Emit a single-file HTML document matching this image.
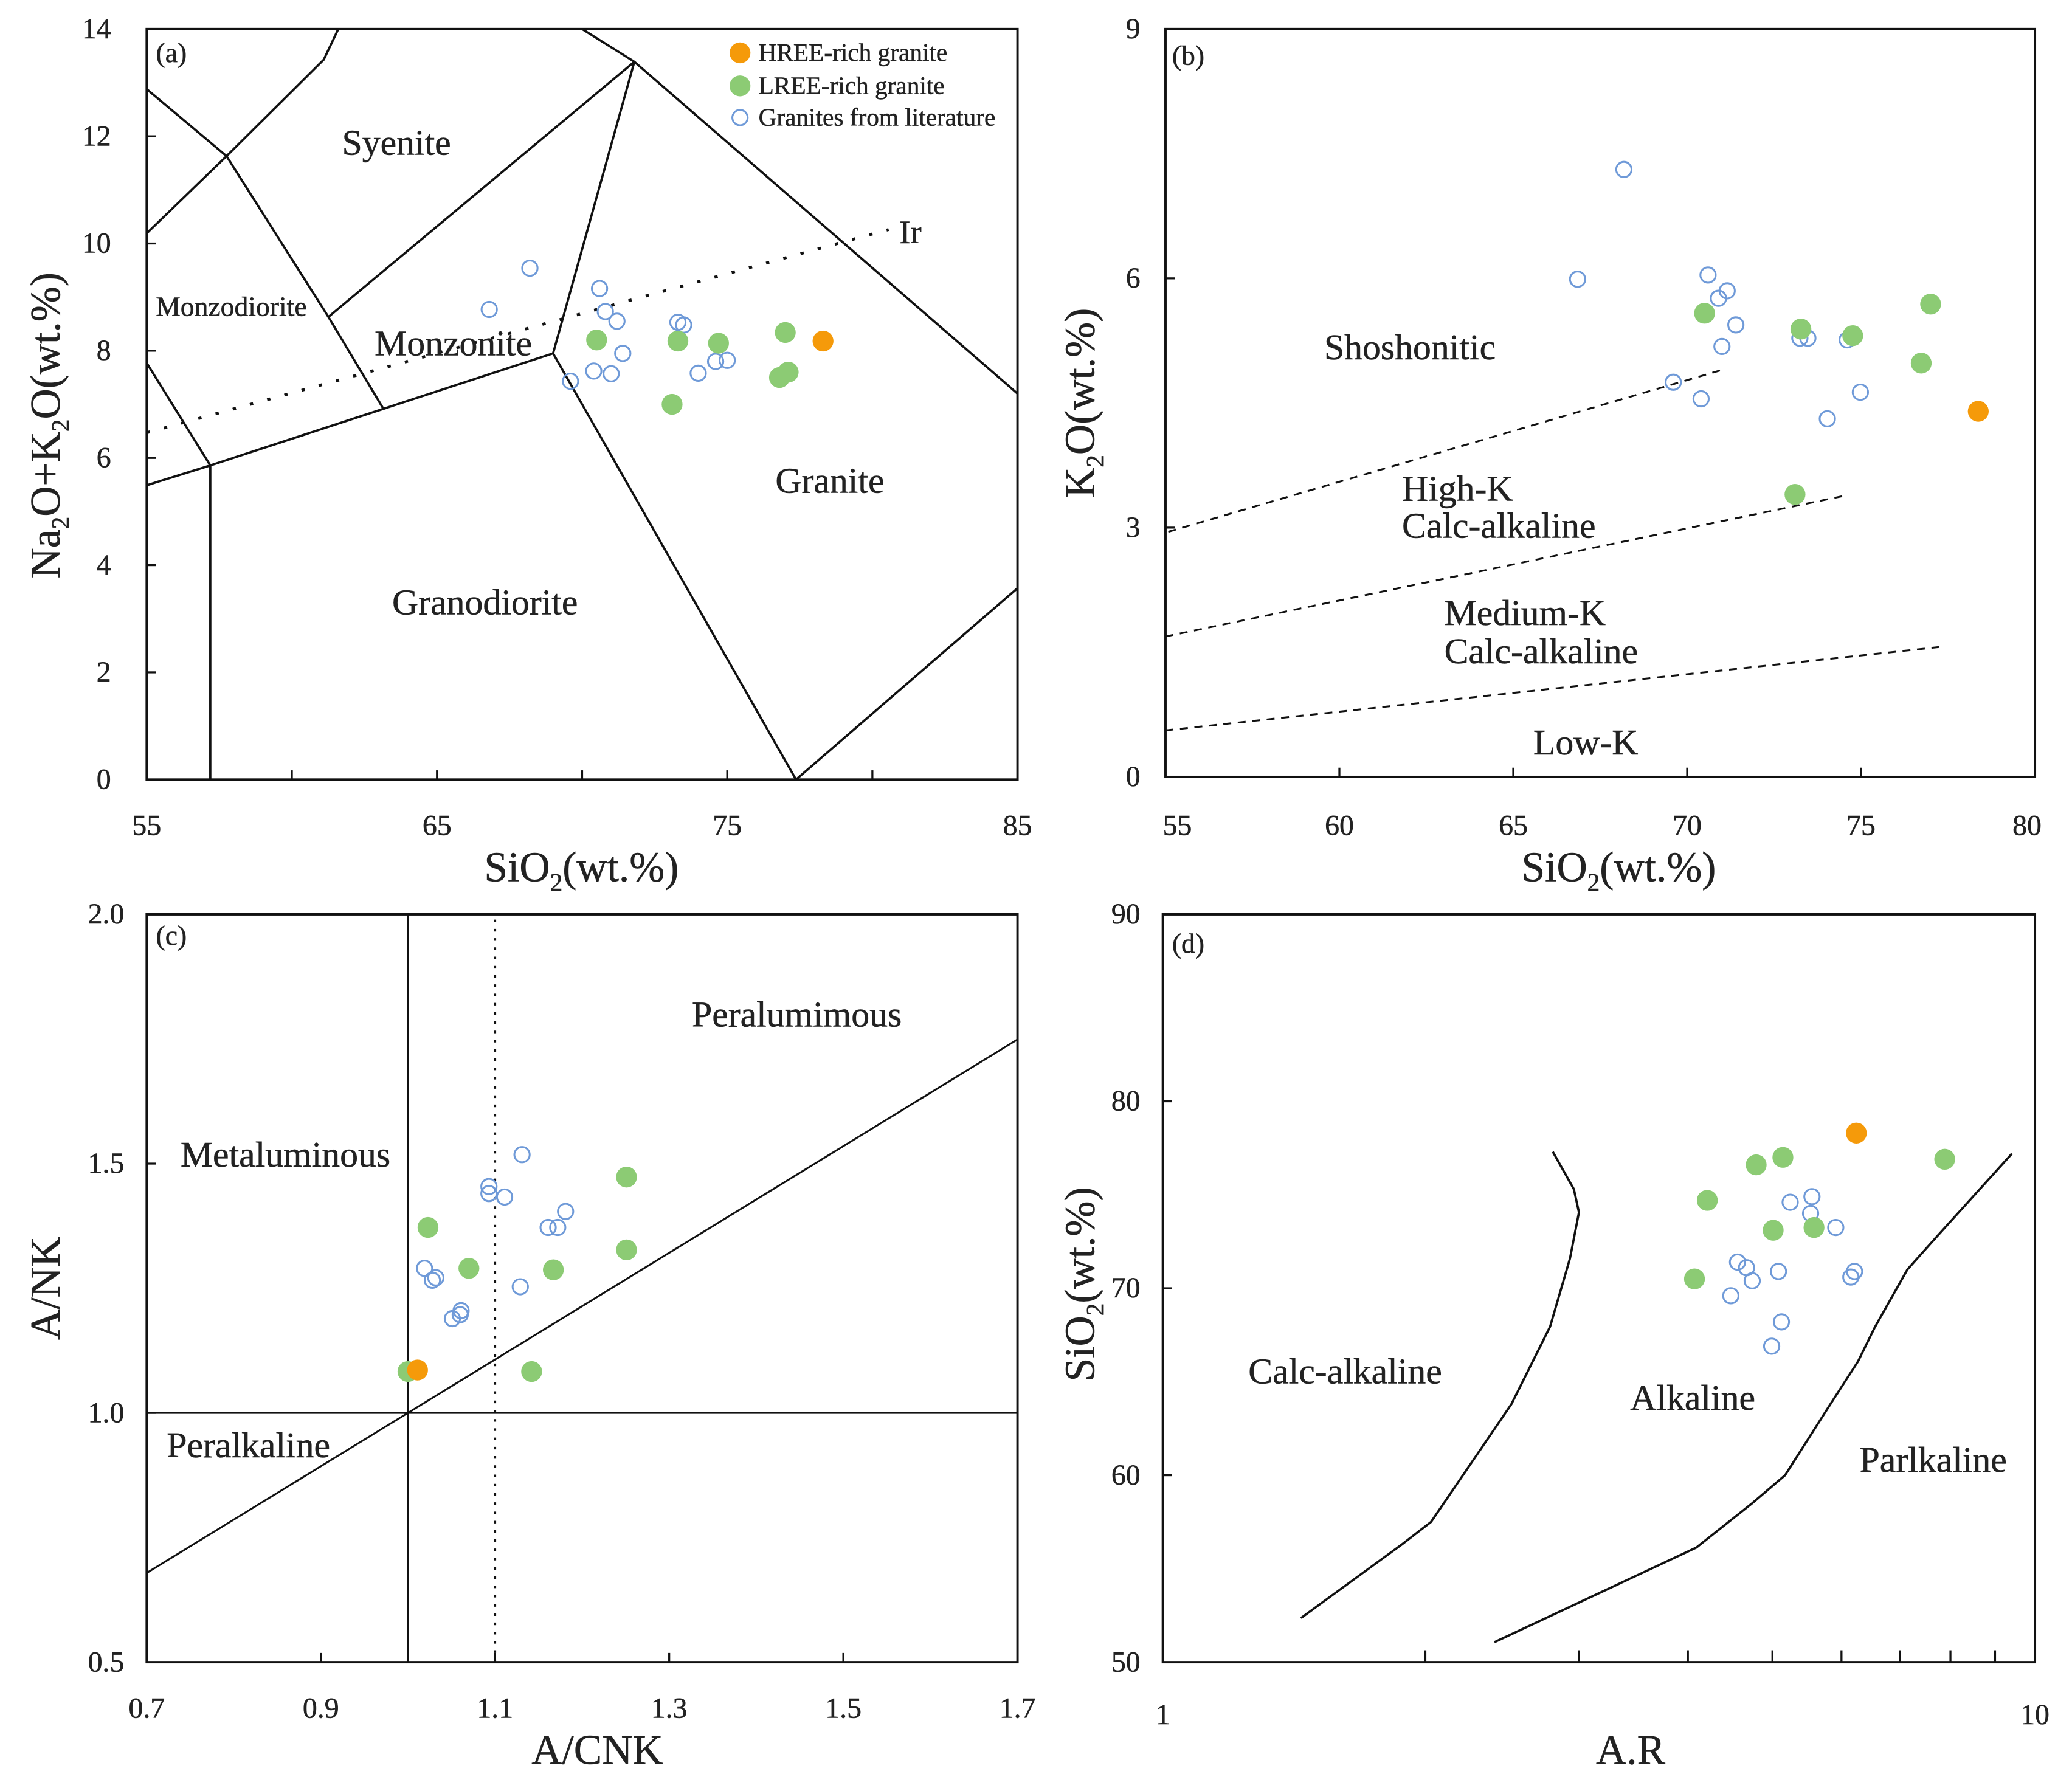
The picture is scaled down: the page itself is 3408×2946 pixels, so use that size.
<!DOCTYPE html>
<html><head><meta charset="utf-8"><style>
html,body{margin:0;padding:0;background:#fff}
svg{display:block}
text{font-family:"Liberation Serif",serif;fill:#222;stroke:#222;stroke-width:0.25}
</style></head><body>
<svg id="fig" width="3408" height="2946" viewBox="0 0 1568 1355.5" xmlns="http://www.w3.org/2000/svg"></svg>
<script>
// ---------- Panel (a) TAS ----------
const aGreenX=[70.5,73.3,74.7,77.0,76.8,77.1,73.1];
const aGreenY=[8.2,8.18,8.14,8.34,7.5,7.6,7.0];
const aOrangeX=[78.3];
const aOrangeY=[8.18];
const aBlueX=[66.8,68.2,70.6,70.8,71.2,71.4,70.4,71.0,69.6,73.3,73.5,74.0,74.6,75.0];
const aBlueY=[8.77,9.54,9.16,8.73,8.55,7.95,7.62,7.57,7.43,8.53,8.48,7.58,7.8,7.82];
const aXTicks=[55,65,75,85];
const aYTicks=[0,2,4,6,8,10,12,14];
// ---------- Panel (b) K2O-SiO2 ----------
const bGreenX=[70.5,73.27,74.76,77.0,76.73,73.1];
const bGreenY=[5.58,5.39,5.31,5.69,4.98,3.4];
const bOrangeX=[78.37];
const bOrangeY=[4.4];
const bBlueX=[68.18,66.85,70.6,70.9,71.15,71.4,71.0,69.6,70.4,73.24,73.47,74.6,74.98,74.03];
const bBlueY=[7.31,5.99,6.04,5.76,5.85,5.44,5.18,4.75,4.55,5.28,5.28,5.26,4.63,4.31];
const bXTicks=[55,60,65,70,75,80];
const bYTicks=[0,3,6,9];
// ---------- Panel (c) A/NK-A/CNK ----------
const cGreenX=[1.023,1.07,1.251,1.251,1.167,1.142,1.0];
const cGreenY=[1.372,1.29,1.473,1.327,1.287,1.083,1.083];
const cOrangeX=[1.011];
const cOrangeY=[1.086];
const cBlueX=[1.131,1.093,1.093,1.111,1.181,1.161,1.172,1.019,1.032,1.028,1.129,1.061,1.06,1.051];
const cBlueY=[1.518,1.454,1.44,1.433,1.404,1.372,1.372,1.29,1.271,1.266,1.253,1.205,1.197,1.189];
const cXTicks=[0.7,0.9,1.1,1.3,1.5,1.7];
const cYTicks=[0.5,1.0,1.5,2.0];
// ---------- Panel (d) SiO2-A.R ----------
const dGreenX=[4.07,4.21,4.79,5.14,5.01,5.58,7.88];
const dGreenY=[70.5,74.7,76.6,77.0,73.1,73.25,76.9];
const dOrangeX=[6.24];
const dOrangeY=[78.3];
const dBlueX=[5.24,5.55,5.53,5.91,4.56,4.67,4.74,5.08,4.48,5.12,4.99,6.15,6.21];
const dBlueY=[74.6,74.9,74.0,73.25,71.4,71.1,70.4,70.9,69.6,68.2,66.9,70.6,70.9];
const dCurve1X=[1.44,1.88,2.03,2.51,2.78,2.93,3.0,2.96,2.80];
const dCurve1Y=[52.36,56.3,57.5,63.8,67.95,71.6,74.06,75.3,77.3];
const dCurve2X=[2.40,4.09,4.74,5.17,5.79,6.27,6.55,7.14,7.73,9.41];
const dCurve2Y=[51.07,56.13,58.5,60.0,63.6,66.1,67.9,71.0,72.8,77.2];
const dYTicks=[50,60,70,80,90];

const NS="http://www.w3.org/2000/svg";
const svg=document.getElementById('fig');
function mk(tag,attrs,parent){const e=document.createElementNS(NS,tag);for(const k in attrs)e.setAttribute(k,attrs[k]);(parent||svg).appendChild(e);return e;}
function txt(s,x,y,size,anchor,parent){const t=mk('text',{x:x,y:y,'font-size':size,'text-anchor':anchor||'middle'},parent);t.textContent=s;return t;}
function linScale(d0,d1,r0,r1){return v=>r0+(v-d0)/(d1-d0)*(r1-r0);}
function logScale(d0,d1,r0,r1){return v=>r0+(Math.log10(v)-Math.log10(d0))/(Math.log10(d1)-Math.log10(d0))*(r1-r0);}
const GREEN='#8ccb74',ORANGE='#f59a0a',BLUE='#6f9ad8';
const LAB=27.5, TICK=22, TITLE=32;
function points(g,xs,ys,sx,sy,kind,name){
  for(let i=0;i<xs.length;i++){
    let c;
    if(kind==='open'){c=mk('circle',{cx:sx(xs[i]),cy:sy(ys[i]),r:5.8,fill:'none',stroke:BLUE,'stroke-width':1.4},g);}
    else{c=mk('circle',{cx:sx(xs[i]),cy:sy(ys[i]),r:7.9,fill:kind==='green'?GREEN:ORANGE},g);}
    
    
  }
}
function poly(g,pts,sx,sy,extra){
  const d=pts.map((p,i)=>(i?'L':'M')+sx(p[0]).toFixed(2)+' '+sy(p[1]).toFixed(2)).join(' ');
  return mk('path',Object.assign({d:d,fill:'none',stroke:'#111','stroke-width':1.7},extra||{}),g);
}
function frame(g,x0,y0,x1,y1){const r=mk('rect',{x:x0,y:y0,width:x1-x0,height:y1-y0,fill:'none',stroke:'#111','stroke-width':1.8},g);}
function clip(id,x0,y0,x1,y1){const cp=mk('clipPath',{id:id});mk('rect',{x:x0,y:y0,width:x1-x0,height:y1-y0},cp);}

// ===== Panel A =====
(function(){
  const g=mk('g',{});
  const X0=111,X1=770,Y0=22,Y1=590;
  const sx=linScale(55,85,X0,X1), sy=linScale(0,14,Y1,Y0);
  clip('ca',X0,Y0,X1,Y1);
  const lg=mk('g',{'clip-path':'url(#ca)',},g);
  const segs=[
    [[55,12.88],[57.75,11.63],[61.26,8.63],[63.15,6.92]],
    [[55,10.19],[57.75,11.63],[61.1,13.43],[61.6,14]],
    [[61.26,8.63],[71.8,13.39]],
    [[70.0,14],[71.8,13.39],[85,7.2]],
    [[71.8,13.39],[69.0,7.95],[77.37,0],[85,3.57]],
    [[55,5.49],[57.19,5.86],[69.0,7.95]],
    [[55,7.77],[57.19,5.86],[57.19,0]]
  ];
  segs.forEach(s=>poly(lg,s,sx,sy));
  poly(lg,[[55,6.47],[80.56,10.26]],sx,sy,{'stroke-dasharray':'2.5 11','stroke-width':2.2});
  frame(g,X0,Y0,X1,Y1);
  [60,65,70,75,80].forEach(v=>mk('line',{x1:sx(v),x2:sx(v),y1:Y1,y2:Y1-7,stroke:'#111','stroke-width':1.5},g));
  [2,4,6,8,10,12].forEach(v=>mk('line',{x1:X0,x2:X0+7,y1:sy(v),y2:sy(v),stroke:'#111','stroke-width':1.5},g));
  aXTicks.forEach(v=>txt(String(v),sx(v),632,TICK,'middle',g));
  aYTicks.forEach(v=>txt(String(v),84,sy(v)+7,TICK,'end',g));
  txt('(a)',118,47,21,'start',g);
  txt('Syenite',300,117,LAB,'middle',g);
  txt('Monzodiorite',175,239,21,'middle',g);
  txt('Monzonite',343,269,LAB,'middle',g);
  txt('Granite',628,373,LAB,'middle',g);
  txt('Granodiorite',367,465,LAB,'middle',g);
  txt('Ir',689,184,25,'middle',g);
  points(g,aBlueX,aBlueY,sx,sy,'open','literature-granite-point');
  points(g,aGreenX,aGreenY,sx,sy,'green','lree-granite-point');
  points(g,aOrangeX,aOrangeY,sx,sy,'orange','hree-granite-point');
  const leg=mk('g',{},g);
  mk('circle',{cx:560,cy:40,r:7.9,fill:ORANGE},leg);
  mk('circle',{cx:560,cy:65,r:7.9,fill:GREEN},leg);
  mk('circle',{cx:560,cy:89,r:5.8,fill:'none',stroke:BLUE,'stroke-width':1.4},leg);
  txt('HREE-rich granite',574,46,19,'start',leg);
  txt('LREE-rich granite',574,71,19,'start',leg);
  txt('Granites from literature',574,95,19,'start',leg);
  const xt=txt('',440,667,TITLE,'middle',g);xt.innerHTML='SiO<tspan font-size="19" dy="7">2</tspan><tspan dy="-7">(wt.%)</tspan>';
  
  const yt=mk('text',{x:0,y:0,'font-size':TITLE,'text-anchor':'middle',transform:'translate(45,322) rotate(-90)',},g);
  yt.innerHTML='Na<tspan font-size="19" dy="7">2</tspan><tspan dy="-7">O+K</tspan><tspan font-size="19" dy="7">2</tspan><tspan dy="-7">O(wt.%)</tspan>';
})();

// ===== Panel B =====
(function(){
  const g=mk('g',{});
  const X0=882,X1=1540,Y0=22,Y1=588;
  const sx=linScale(55,80,X0,X1), sy=linScale(0,9,Y1,Y0);
  const dash={'stroke-dasharray':'6 5','stroke-width':1.4};
  poly(g,[[55.08,2.95],[71.1,4.91]],sx,sy,dash);
  poly(g,[[55,1.69],[74.6,3.39]],sx,sy,dash);
  poly(g,[[55,0.56],[77.4,1.57]],sx,sy,dash);
  frame(g,X0,Y0,X1,Y1);
  [60,65,70,75].forEach(v=>mk('line',{x1:sx(v),x2:sx(v),y1:Y1,y2:Y1-7,stroke:'#111','stroke-width':1.5},g));
  [3,6].forEach(v=>mk('line',{x1:X0,x2:X0+7,y1:sy(v),y2:sy(v),stroke:'#111','stroke-width':1.5},g));
  bXTicks.forEach(v=>txt(String(v),sx(v)+(v===55?9:v===80?-6:0),632,TICK,'middle',g));
  bYTicks.forEach(v=>txt(String(v),863,sy(v)+7,TICK,'end',g));
  txt('(b)',887,49,21,'start',g);
  txt('Shoshonitic',1067,272,LAB,'middle',g);
  txt('High-K',1061,379,LAB,'start',g);
  txt('Calc-alkaline',1061,407,LAB,'start',g);
  txt('Medium-K',1093,473,LAB,'start',g);
  txt('Calc-alkaline',1093,502,LAB,'start',g);
  txt('Low-K',1200,571,LAB,'middle',g);
  points(g,bBlueX,bBlueY,sx,sy,'open','literature-granite-point');
  points(g,bGreenX,bGreenY,sx,sy,'green','lree-granite-point');
  points(g,bOrangeX,bOrangeY,sx,sy,'orange','hree-granite-point');
  const xt=txt('',1225,667,TITLE,'middle',g);xt.innerHTML='SiO<tspan font-size="19" dy="7">2</tspan><tspan dy="-7">(wt.%)</tspan>';
  
  const yt=mk('text',{x:0,y:0,'font-size':TITLE,'text-anchor':'middle',transform:'translate(828,305) rotate(-90)',},g);
  yt.innerHTML='K<tspan font-size="19" dy="7">2</tspan><tspan dy="-7">O(wt.%)</tspan>';
})();

// ===== Panel C =====
(function(){
  const g=mk('g',{});
  const X0=111,X1=770,Y0=692,Y1=1258;
  const sx=linScale(0.7,1.7,X0,X1), sy=linScale(0.5,2.0,Y1,Y0);
  poly(g,[[1.0,0.5],[1.0,2.0]],sx,sy,{'stroke-width':1.4});
  poly(g,[[0.7,1.0],[1.7,1.0]],sx,sy,{'stroke-width':1.4});
  poly(g,[[0.7,0.679],[1.7,1.749]],sx,sy,{'stroke-width':1.4});
  poly(g,[[1.1,0.5],[1.1,2.0]],sx,sy,{'stroke-dasharray':'2 5','stroke-width':1.7});
  frame(g,X0,Y0,X1,Y1);
  [0.9,1.1,1.3,1.5].forEach(v=>mk('line',{x1:sx(v),x2:sx(v),y1:Y1,y2:Y1-7,stroke:'#111','stroke-width':1.5},g));
  [1.0,1.5].forEach(v=>mk('line',{x1:X0,x2:X0+7,y1:sy(v),y2:sy(v),stroke:'#111','stroke-width':1.5},g));
  cXTicks.forEach(v=>txt(v.toFixed(1),sx(v),1300,TICK,'middle',g));
  cYTicks.forEach(v=>txt(v.toFixed(1),94,sy(v)+7,TICK,'end',g));
  txt('(c)',118,715,21,'start',g);
  txt('Peralumimous',603,777,LAB,'middle',g);
  txt('Metaluminous',216,883,LAB,'middle',g);
  txt('Peralkaline',188,1103,LAB,'middle',g);
  points(g,cBlueX,cBlueY,sx,sy,'open','literature-granite-point');
  points(g,cGreenX,cGreenY,sx,sy,'green','lree-granite-point');
  points(g,cOrangeX,cOrangeY,sx,sy,'orange','hree-granite-point');
  const xt=txt('A/CNK',452,1335,TITLE,'middle',g);
  
  const yt=mk('text',{x:0,y:0,'font-size':TITLE,'text-anchor':'middle',transform:'translate(45,975) rotate(-90)',},g);
  yt.textContent='A/NK';
})();

// ===== Panel D =====
(function(){
  const g=mk('g',{});
  const X0=880,X1=1540,Y0=692,Y1=1258;
  const sx=logScale(1,10,X0,X1), sy=linScale(50,90,Y1,Y0);
  const line=(xs,ys,n)=>{const p=poly(g,xs.map((x,i)=>[x,ys[i]]),sx,sy,{'stroke-width':1.7,'stroke-linejoin':'round'});};
  line(dCurve1X,dCurve1Y,'calc-alkaline-alkaline-boundary');
  line(dCurve2X,dCurve2Y,'alkaline-peralkaline-boundary');
  frame(g,X0,Y0,X1,Y1);
  [2,3,4,5,6,7,8,9].forEach(v=>mk('line',{x1:sx(v),x2:sx(v),y1:Y1,y2:Y1-9,stroke:'#111','stroke-width':1.5},g));
  [60,70,80].forEach(v=>mk('line',{x1:X0,x2:X0+7,y1:sy(v),y2:sy(v),stroke:'#111','stroke-width':1.5},g));
  txt('1',880,1305,TICK,'middle',g);
  txt('10',1540,1305,TICK,'middle',g);
  dYTicks.forEach(v=>txt(String(v),863,sy(v)+7,TICK,'end',g));
  txt('(d)',887,721,21,'start',g);
  txt('Calc-alkaline',1018,1047,LAB,'middle',g);
  txt('Alkaline',1281,1067,LAB,'middle',g);
  txt('Parlkaline',1463,1114,LAB,'middle',g);
  points(g,dBlueX,dBlueY,sx,sy,'open','literature-granite-point');
  points(g,dGreenX,dGreenY,sx,sy,'green','lree-granite-point');
  points(g,dOrangeX,dOrangeY,sx,sy,'orange','hree-granite-point');
  const xt=txt('A.R',1234,1335,TITLE,'middle',g);
  
  const yt=mk('text',{x:0,y:0,'font-size':TITLE,'text-anchor':'middle',transform:'translate(828,972) rotate(-90)',},g);
  yt.innerHTML='SiO<tspan font-size="19" dy="7">2</tspan><tspan dy="-7">(wt.%)</tspan>';
})();
</script>
</body></html>
